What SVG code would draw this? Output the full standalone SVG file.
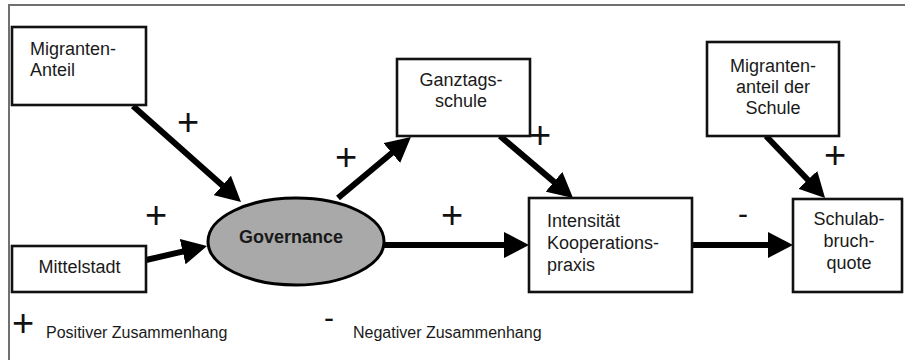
<svg xmlns="http://www.w3.org/2000/svg" width="905" height="360" viewBox="0 0 905 360">
<style>
.box{fill:#fff;stroke:#111;stroke-width:2.6}
.t{font-family:"Liberation Sans",Arial,sans-serif;font-size:18px;fill:#1a1a1a}
.c{text-anchor:middle}
.sgn{font-family:"Liberation Sans",Arial,sans-serif;font-size:38px;fill:#111;text-anchor:middle}
.mn{font-family:"Liberation Sans",Arial,sans-serif;font-size:30px;fill:#111}
.leg{font-family:"Liberation Sans",Arial,sans-serif;font-size:16px;fill:#1a1a1a}
.arr{stroke:#000;stroke-width:6;fill:none;marker-end:url(#ah)}
</style>
<defs>
<marker id="ah" markerUnits="userSpaceOnUse" markerWidth="25" markerHeight="26" refX="2" refY="13" orient="auto">
<path d="M0,0 L25,13 L0,26 z" fill="#000"/>
</marker>
</defs>
<rect width="905" height="360" fill="#fff"/>
<path d="M9,360 V5 H905" fill="none" stroke="#707070" stroke-width="2"/>

<g id="connectors">
<line class="arr" x1="133" y1="106" x2="223.8" y2="186.7"/>
<line class="arr" x1="146" y1="260" x2="184.6" y2="251.2"/>
<line class="arr" x1="338" y1="198" x2="393.3" y2="151.7"/>
<line class="arr" x1="500" y1="136" x2="555.5" y2="183.1"/>
<line class="arr" x1="384" y1="245" x2="506" y2="245"/>
<line class="arr" x1="692" y1="245" x2="770" y2="245"/>
<line class="arr" x1="766" y1="136" x2="809.2" y2="181.3"/>
<text class="sgn" x="188" y="135.4">+</text>
<text class="sgn" x="156" y="228.4">+</text>
<text class="sgn" x="346" y="170.4">+</text>
<text class="sgn" x="540" y="148.4">+</text>
<text class="sgn" x="452" y="228.4">+</text>
<text class="sgn" x="835" y="168.4">+</text>
<text class="mn" x="738" y="224">-</text>
</g>

<g id="migranten-anteil">
<rect class="box" x="12" y="27" width="134" height="78"/>
<text class="t" x="30" y="55">Migranten-</text>
<text class="t" x="30" y="76">Anteil</text>
</g>

<g id="mittelstadt">
<rect class="box" x="12" y="246" width="134" height="46"/>
<text class="t c" x="79.5" y="273">Mittelstadt</text>
</g>

<g id="governance">
<ellipse cx="296" cy="241.5" rx="88" ry="43.5" fill="#a9a9a9" stroke="#000" stroke-width="3"/>
<text class="t c" x="291" y="243" font-weight="bold">Governance</text>
</g>

<g id="ganztagsschule">
<rect class="box" x="397" y="59" width="133" height="77"/>
<text class="t c" x="461" y="86">Ganztags-</text>
<text class="t c" x="461" y="107">schule</text>
</g>

<g id="migrantenanteil-schule">
<rect class="box" x="707" y="42" width="132" height="94"/>
<text class="t c" x="773" y="72">Migranten-</text>
<text class="t c" x="773" y="93">anteil der</text>
<text class="t c" x="773" y="114">Schule</text>
</g>

<g id="intensitaet">
<rect class="box" x="529" y="198" width="163" height="94"/>
<text class="t" x="547" y="227">Intensität</text>
<text class="t" x="547" y="249">Kooperations-</text>
<text class="t" x="547" y="271">praxis</text>
</g>

<g id="schulabbruchquote">
<rect class="box" x="793" y="199" width="109" height="93"/>
<text class="t c" x="849" y="225">Schulab-</text>
<text class="t c" x="849" y="247">bruch-</text>
<text class="t c" x="849" y="269">quote</text>
</g>

<g id="legend">
<text class="sgn" x="23" y="336.4">+</text>
<text class="leg" x="46" y="338">Positiver Zusammenhang</text>
<text class="mn" x="324" y="328">-</text>
<text class="leg" x="353" y="338">Negativer Zusammenhang</text>
</g>
</svg>
